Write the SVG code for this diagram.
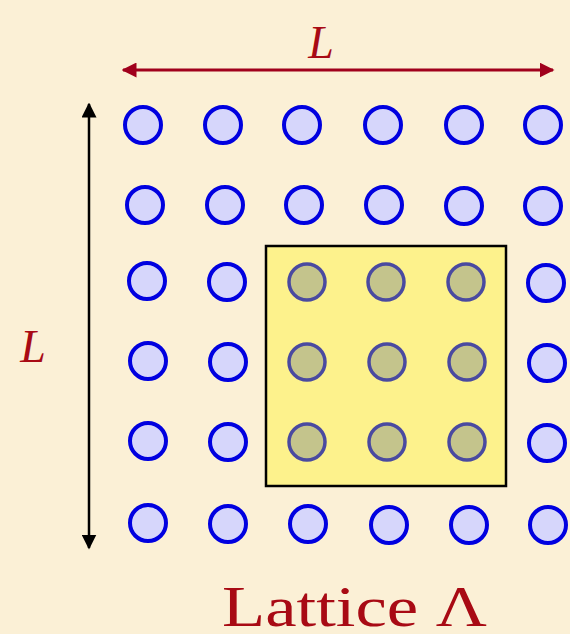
<svg xmlns="http://www.w3.org/2000/svg" width="570" height="634" viewBox="0 0 570 634">
<defs>
<marker id="ar" viewBox="0 0 10 10" refX="9" refY="5" markerWidth="5" markerHeight="5" orient="auto-start-reverse" markerUnits="strokeWidth"><path d="M0,0 L10,5 L0,10 z" fill="#a0001c"/></marker>
<marker id="ak" viewBox="0 0 10 10" refX="9" refY="5" markerWidth="6" markerHeight="6" orient="auto-start-reverse" markerUnits="strokeWidth"><path d="M0,0 L10,5 L0,10 z" fill="#000"/></marker>
<style>
.s{fill:#d6d6fb;stroke:#0000e0;stroke-width:4}
.g{fill:#c4c48c;stroke:#4a4aa0;stroke-width:3.5}
.t{font-family:"Liberation Serif","DejaVu Serif",serif;fill:#a80a14}
</style>
</defs>
<rect width="570" height="634" fill="#fbf0d6"/>
<g id="connectors">
<line x1="123" y1="70" x2="553" y2="70" stroke="#a0001c" stroke-width="3" marker-start="url(#ar)" marker-end="url(#ar)"/>
<line x1="89" y1="104" x2="89" y2="548" stroke="#000" stroke-width="2.5" marker-start="url(#ak)" marker-end="url(#ak)"/>
</g>
<g id="box"><rect x="266" y="246" width="240" height="240" fill="#fdf28c" stroke="#000" stroke-width="2.5"/></g>
<g id="lattice">
<g id="row1"><circle class="s" cx="143" cy="125" r="18"/><circle class="s" cx="223" cy="125" r="18"/><circle class="s" cx="302" cy="125" r="18"/><circle class="s" cx="383" cy="125" r="18"/><circle class="s" cx="464" cy="125" r="18"/><circle class="s" cx="543" cy="125" r="18"/></g>
<g id="row2"><circle class="s" cx="145" cy="205" r="18"/><circle class="s" cx="225" cy="205" r="18"/><circle class="s" cx="304" cy="205" r="18"/><circle class="s" cx="384" cy="205" r="18"/><circle class="s" cx="464" cy="206" r="18"/><circle class="s" cx="543" cy="206" r="18"/></g>
<g id="row3"><circle class="s" cx="147" cy="281" r="18"/><circle class="s" cx="227" cy="282" r="18"/><circle class="g" cx="307" cy="282" r="18"/><circle class="g" cx="386" cy="282" r="18"/><circle class="g" cx="466" cy="282" r="18"/><circle class="s" cx="546" cy="283" r="18"/></g>
<g id="row4"><circle class="s" cx="148" cy="361" r="18"/><circle class="s" cx="228" cy="362" r="18"/><circle class="g" cx="307" cy="362" r="18"/><circle class="g" cx="387" cy="362" r="18"/><circle class="g" cx="467" cy="362" r="18"/><circle class="s" cx="547" cy="363" r="18"/></g>
<g id="row5"><circle class="s" cx="148" cy="441" r="18"/><circle class="s" cx="228" cy="442" r="18"/><circle class="g" cx="307" cy="442" r="18"/><circle class="g" cx="387" cy="442" r="18"/><circle class="g" cx="467" cy="442" r="18"/><circle class="s" cx="547" cy="443" r="18"/></g>
<g id="row6"><circle class="s" cx="148" cy="523" r="18"/><circle class="s" cx="228" cy="524" r="18"/><circle class="s" cx="308" cy="524" r="18"/><circle class="s" cx="389" cy="525" r="18"/><circle class="s" cx="469" cy="525" r="18"/><circle class="s" cx="548" cy="525" r="18"/></g>
</g>
<g id="labels">
<text class="t" x="321" y="58" font-size="46" font-style="italic" text-anchor="middle">L</text>
<text class="t" x="33" y="362" font-size="46" font-style="italic" text-anchor="middle">L</text>
<text class="t" x="222" y="626" font-size="56" textLength="265" lengthAdjust="spacingAndGlyphs">Lattice Λ</text>
</g>
</svg>
